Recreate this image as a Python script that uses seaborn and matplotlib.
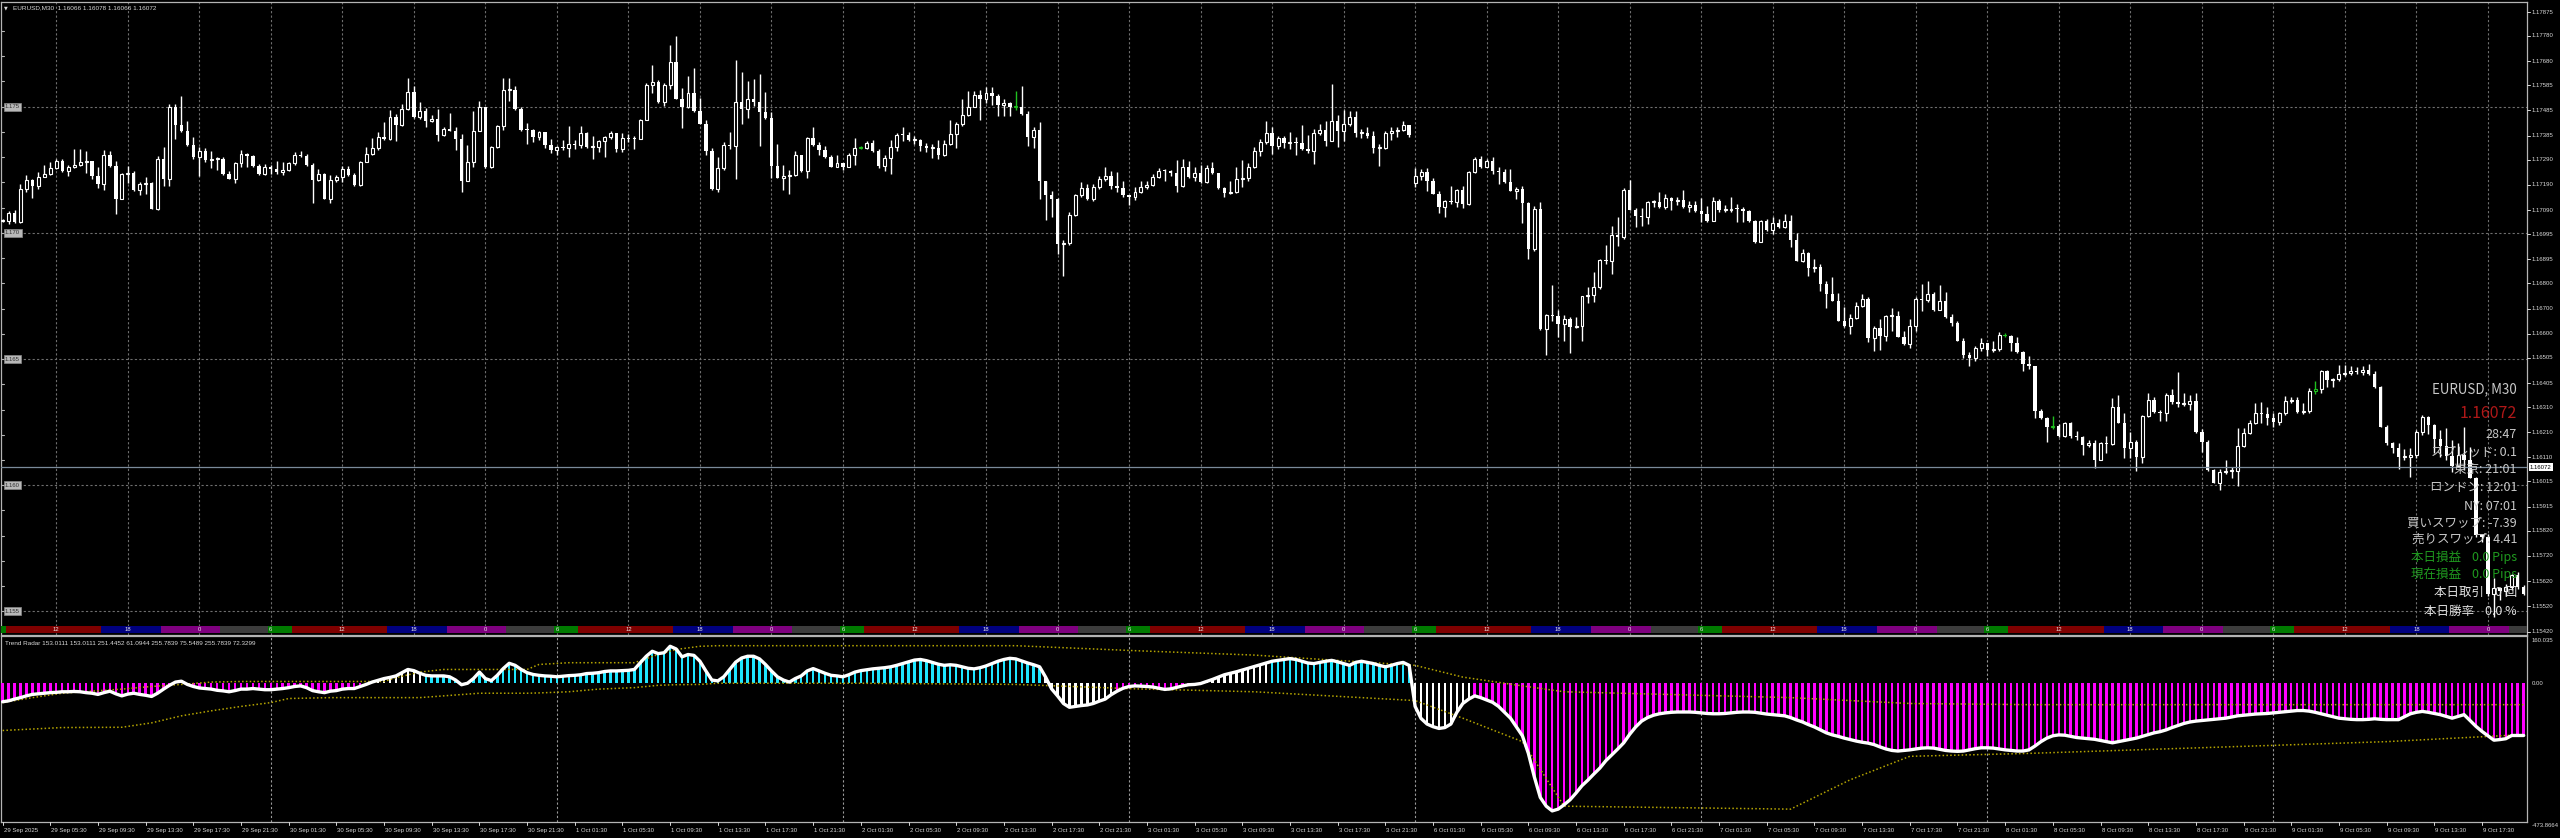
import numpy as np
import matplotlib
matplotlib.use("Agg")
import matplotlib.pyplot as plt
import seaborn as sns
from datetime import datetime, timedelta

W, H = 2560, 838

# ---------------- data: EURUSD M30 candles ----------------
first_open = 1.17048
closes = [
    1.17048, 1.17077, 1.17044, 1.17173, 1.17209, 1.17186, 1.17222, 1.17233, 1.17257, 1.17286,
    1.17247, 1.17262, 1.17268, 1.17280, 1.17283, 1.17225, 1.17193, 1.17310, 1.17266, 1.17136,
    1.17235, 1.17239, 1.17171, 1.17193, 1.17196, 1.17094, 1.17291, 1.17213, 1.17497, 1.17429,
    1.17402, 1.17349, 1.17299, 1.17325, 1.17288, 1.17292, 1.17294, 1.17233, 1.17213, 1.17275,
    1.17312, 1.17306, 1.17266, 1.17233, 1.17259, 1.17251, 1.17243, 1.17250, 1.17275, 1.17307,
    1.17304, 1.17268, 1.17209, 1.17235, 1.17136, 1.17209, 1.17220, 1.17253, 1.17230, 1.17189,
    1.17282, 1.17312, 1.17336, 1.17381, 1.17370, 1.17458, 1.17429, 1.17491, 1.17557, 1.17458,
    1.17481, 1.17444, 1.17452, 1.17389, 1.17411, 1.17405, 1.17372, 1.17206, 1.17279, 1.17405,
    1.17497, 1.17259, 1.17341, 1.17423, 1.17564, 1.17564, 1.17491, 1.17409, 1.17407, 1.17379,
    1.17398, 1.17349, 1.17330, 1.17339, 1.17338, 1.17353, 1.17349, 1.17396, 1.17339, 1.17342,
    1.17362, 1.17380, 1.17396, 1.17333, 1.17376, 1.17373, 1.17372, 1.17448, 1.17587, 1.17599,
    1.17518, 1.17585, 1.17675, 1.17531, 1.17500, 1.17555, 1.17483, 1.17431, 1.17323, 1.17172,
    1.17255, 1.17349, 1.17346, 1.17518, 1.17492, 1.17531, 1.17518, 1.17477, 1.17457, 1.17265,
    1.17218, 1.17225, 1.17231, 1.17307, 1.17244, 1.17375, 1.17349, 1.17330, 1.17300, 1.17261,
    1.17278, 1.17261, 1.17309, 1.17336, 1.17338, 1.17356, 1.17326, 1.17265, 1.17296, 1.17339,
    1.17388, 1.17386, 1.17369, 1.17369, 1.17346, 1.17336, 1.17338, 1.17307, 1.17353, 1.17392,
    1.17431, 1.17466, 1.17500, 1.17548, 1.17531, 1.17555, 1.17544, 1.17505, 1.17516, 1.17500,
    1.17500, 1.17470, 1.17379, 1.17408, 1.17207, 1.17148, 1.17134, 1.16956, 1.16961, 1.17072,
    1.17148, 1.17178, 1.17134, 1.17183, 1.17214, 1.17227, 1.17187, 1.17178, 1.17148, 1.17141,
    1.17161, 1.17183, 1.17191, 1.17220, 1.17247, 1.17244, 1.17236, 1.17187, 1.17262, 1.17223,
    1.17236, 1.17200, 1.17257, 1.17237, 1.17178, 1.17157, 1.17161, 1.17214, 1.17218, 1.17260,
    1.17326, 1.17359, 1.17394, 1.17346, 1.17376, 1.17355, 1.17361, 1.17355, 1.17332, 1.17326,
    1.17394, 1.17408, 1.17365, 1.17445, 1.17405, 1.17431, 1.17460, 1.17394, 1.17396, 1.17385,
    1.17336, 1.17338, 1.17394, 1.17405, 1.17408, 1.17427, 1.17389, 1.17227, 1.17240, 1.17204,
    1.17154, 1.17101, 1.17125, 1.17122, 1.17170, 1.17115, 1.17240, 1.17293, 1.17262, 1.17284,
    1.17244, 1.17241, 1.17200, 1.17167, 1.17173, 1.17117, 1.16937, 1.17095, 1.16619, 1.16675,
    1.16671, 1.16639, 1.16659, 1.16626, 1.16632, 1.16749, 1.16753, 1.16787, 1.16893, 1.16888,
    1.16993, 1.16985, 1.17168, 1.17091, 1.17065, 1.17062, 1.17122, 1.17122, 1.17102, 1.17139,
    1.17126, 1.17131, 1.17102, 1.17112, 1.17086, 1.17075, 1.17046, 1.17128, 1.17089, 1.17091,
    1.17094, 1.17093, 1.17086, 1.17046, 1.16963, 1.17046, 1.17012, 1.17038, 1.17025, 1.17046,
    1.16972, 1.16890, 1.16919, 1.16861, 1.16864, 1.16798, 1.16758, 1.16731, 1.16652, 1.16632,
    1.16663, 1.16712, 1.16738, 1.16583, 1.16622, 1.16593, 1.16669, 1.16671, 1.16589, 1.16559,
    1.16632, 1.16738, 1.16735, 1.16758, 1.16694, 1.16731, 1.16668, 1.16641, 1.16573, 1.16517,
    1.16504, 1.16544, 1.16562, 1.16537, 1.16538, 1.16596, 1.16593, 1.16562, 1.16526, 1.16480,
    1.16473, 1.16295, 1.16265, 1.16232, 1.16235, 1.16195, 1.16245, 1.16195, 1.16192, 1.16159,
    1.16168, 1.16102, 1.16168, 1.16162, 1.16309, 1.16248, 1.16146, 1.16172, 1.16113, 1.16274,
    1.16338, 1.16292, 1.16288, 1.16358, 1.16328, 1.16321, 1.16322, 1.16335, 1.16212, 1.16172,
    1.16060, 1.16009, 1.16053, 1.16057, 1.16057, 1.16155, 1.16208, 1.16248, 1.16285, 1.16281,
    1.16265, 1.16251, 1.16285, 1.16335, 1.16338, 1.16292, 1.16294, 1.16375, 1.16381, 1.16451,
    1.16418, 1.16420, 1.16442, 1.16444, 1.16451, 1.16450, 1.16455, 1.16442, 1.16389, 1.16232,
    1.16166, 1.16146, 1.16110, 1.16113, 1.16118, 1.16212, 1.16272, 1.16239, 1.16182, 1.16155,
    1.16115, 1.16076, 1.16119, 1.16099, 1.16030, 1.15801, 1.15794, 1.15569, 1.15592, 1.15580,
    1.15595, 1.15644, 1.15598, 1.15571,
]
highs = [
    1.17053, 1.17087, 1.17090, 1.17193, 1.17230, 1.17214, 1.17243, 1.17270, 1.17279, 1.17291,
    1.17291, 1.17270, 1.17332, 1.17331, 1.17325, 1.17286, 1.17259, 1.17328, 1.17325, 1.17286,
    1.17239, 1.17263, 1.17246, 1.17200, 1.17220, 1.17200, 1.17306, 1.17339, 1.17511, 1.17511,
    1.17544, 1.17444, 1.17378, 1.17339, 1.17336, 1.17323, 1.17299, 1.17302, 1.17246, 1.17279,
    1.17328, 1.17315, 1.17307, 1.17272, 1.17272, 1.17270, 1.17286, 1.17279, 1.17279, 1.17319,
    1.17325, 1.17312, 1.17275, 1.17254, 1.17239, 1.17230, 1.17229, 1.17266, 1.17263, 1.17239,
    1.17286, 1.17339, 1.17376, 1.17398, 1.17438, 1.17487, 1.17471, 1.17511, 1.17614, 1.17583,
    1.17517, 1.17495, 1.17467, 1.17491, 1.17421, 1.17474, 1.17418, 1.17392, 1.17349, 1.17484,
    1.17524, 1.17500, 1.17345, 1.17429, 1.17614, 1.17614, 1.17583, 1.17500, 1.17435, 1.17411,
    1.17405, 1.17401, 1.17372, 1.17346, 1.17366, 1.17424, 1.17366, 1.17424, 1.17398, 1.17383,
    1.17369, 1.17385, 1.17405, 1.17396, 1.17396, 1.17392, 1.17383, 1.17450, 1.17594, 1.17666,
    1.17607, 1.17594, 1.17744, 1.17779, 1.17574, 1.17623, 1.17653, 1.17535, 1.17448, 1.17336,
    1.17300, 1.17359, 1.17398, 1.17683, 1.17636, 1.17601, 1.17610, 1.17631, 1.17557, 1.17477,
    1.17353, 1.17268, 1.17248, 1.17326, 1.17309, 1.17379, 1.17418, 1.17359, 1.17346, 1.17309,
    1.17309, 1.17278, 1.17317, 1.17375, 1.17346, 1.17362, 1.17369, 1.17333, 1.17307, 1.17366,
    1.17396, 1.17418, 1.17398, 1.17385, 1.17372, 1.17356, 1.17353, 1.17369, 1.17369, 1.17448,
    1.17440, 1.17531, 1.17561, 1.17561, 1.17565, 1.17578, 1.17578, 1.17552, 1.17531, 1.17518,
    1.17561, 1.17581, 1.17483, 1.17418, 1.17438, 1.17207, 1.17165, 1.17138, 1.16972, 1.17082,
    1.17154, 1.17200, 1.17194, 1.17194, 1.17227, 1.17262, 1.17247, 1.17240, 1.17207, 1.17148,
    1.17181, 1.17207, 1.17204, 1.17233, 1.17257, 1.17253, 1.17249, 1.17289, 1.17293, 1.17286,
    1.17260, 1.17270, 1.17270, 1.17280, 1.17236, 1.17181, 1.17207, 1.17262, 1.17289, 1.17276,
    1.17342, 1.17372, 1.17445, 1.17418, 1.17385, 1.17385, 1.17398, 1.17379, 1.17429, 1.17389,
    1.17412, 1.17431, 1.17445, 1.17590, 1.17468, 1.17487, 1.17484, 1.17484, 1.17412, 1.17418,
    1.17405, 1.17352, 1.17402, 1.17421, 1.17418, 1.17442, 1.17429, 1.17257, 1.17253, 1.17257,
    1.17218, 1.17167, 1.17130, 1.17187, 1.17174, 1.17187, 1.17244, 1.17299, 1.17306, 1.17293,
    1.17299, 1.17262, 1.17253, 1.17253, 1.17181, 1.17187, 1.17122, 1.17108, 1.17122, 1.16679,
    1.16795, 1.16694, 1.16676, 1.16668, 1.16665, 1.16751, 1.16787, 1.16844, 1.16897, 1.16952,
    1.17029, 1.17062, 1.17179, 1.17210, 1.17099, 1.17099, 1.17126, 1.17131, 1.17161, 1.17155,
    1.17144, 1.17142, 1.17168, 1.17128, 1.17126, 1.17139, 1.17108, 1.17142, 1.17135, 1.17112,
    1.17142, 1.17115, 1.17102, 1.17089, 1.17052, 1.17049, 1.17056, 1.17062, 1.17056, 1.17073,
    1.17069, 1.16999, 1.16936, 1.16923, 1.16897, 1.16877, 1.16811, 1.16824, 1.16761, 1.16708,
    1.16679, 1.16725, 1.16758, 1.16745, 1.16632, 1.16659, 1.16676, 1.16702, 1.16692, 1.16612,
    1.16659, 1.16747, 1.16798, 1.16811, 1.16765, 1.16795, 1.16765, 1.16679, 1.16649, 1.16583,
    1.16526, 1.16553, 1.16583, 1.16562, 1.16570, 1.16606, 1.16602, 1.16596, 1.16586, 1.16533,
    1.16513, 1.16473, 1.16301, 1.16272, 1.16274, 1.16243, 1.16252, 1.16252, 1.16216, 1.16195,
    1.16179, 1.16179, 1.16172, 1.16195, 1.16345, 1.16358, 1.16285, 1.16212, 1.16179, 1.16278,
    1.16367, 1.16349, 1.16298, 1.16365, 1.16381, 1.16447, 1.16365, 1.16358, 1.16365, 1.16221,
    1.16179, 1.16066, 1.16066, 1.16099, 1.16073, 1.16225, 1.16225, 1.16259, 1.16325, 1.16328,
    1.16312, 1.16288, 1.16292, 1.16354, 1.16349, 1.16351, 1.16325, 1.16385, 1.16415, 1.16457,
    1.16457, 1.16424, 1.16477, 1.16477, 1.16471, 1.16468, 1.16473, 1.16481, 1.16451, 1.16394,
    1.16239, 1.16172, 1.16168, 1.16142, 1.16146, 1.16219, 1.16278, 1.16274, 1.16243, 1.16219,
    1.16225, 1.16179, 1.16166, 1.16232, 1.16150, 1.16033, 1.15808, 1.15808, 1.15632, 1.15598,
    1.15610, 1.15650, 1.15655, 1.15605,
]
lows = [
    1.17042, 1.17037, 1.17040, 1.17038, 1.17160, 1.17140, 1.17173, 1.17220, 1.17230, 1.17254,
    1.17243, 1.17226, 1.17255, 1.17265, 1.17239, 1.17213, 1.17176, 1.17171, 1.17259, 1.17074,
    1.17134, 1.17196, 1.17167, 1.17151, 1.17153, 1.17093, 1.17091, 1.17186, 1.17184, 1.17372,
    1.17398, 1.17345, 1.17292, 1.17226, 1.17279, 1.17257, 1.17249, 1.17230, 1.17212, 1.17197,
    1.17259, 1.17259, 1.17262, 1.17230, 1.17230, 1.17235, 1.17233, 1.17230, 1.17246, 1.17268,
    1.17299, 1.17266, 1.17120, 1.17206, 1.17134, 1.17120, 1.17202, 1.17200, 1.17226, 1.17186,
    1.17184, 1.17279, 1.17310, 1.17328, 1.17368, 1.17368, 1.17365, 1.17425, 1.17487, 1.17455,
    1.17451, 1.17421, 1.17438, 1.17365, 1.17382, 1.17402, 1.17328, 1.17160, 1.17206, 1.17259,
    1.17402, 1.17257, 1.17257, 1.17336, 1.17407, 1.17524, 1.17488, 1.17405, 1.17353, 1.17359,
    1.17366, 1.17336, 1.17317, 1.17307, 1.17330, 1.17300, 1.17333, 1.17336, 1.17336, 1.17294,
    1.17320, 1.17300, 1.17372, 1.17320, 1.17320, 1.17359, 1.17333, 1.17372, 1.17448, 1.17555,
    1.17516, 1.17503, 1.17570, 1.17529, 1.17414, 1.17496, 1.17479, 1.17430, 1.17307, 1.17170,
    1.17163, 1.17248, 1.17333, 1.17213, 1.17431, 1.17457, 1.17503, 1.17343, 1.17450, 1.17216,
    1.17216, 1.17170, 1.17153, 1.17226, 1.17242, 1.17216, 1.17346, 1.17309, 1.17296, 1.17259,
    1.17259, 1.17248, 1.17268, 1.17270, 1.17333, 1.17333, 1.17320, 1.17255, 1.17244, 1.17235,
    1.17326, 1.17362, 1.17362, 1.17353, 1.17323, 1.17320, 1.17296, 1.17294, 1.17304, 1.17349,
    1.17336, 1.17424, 1.17463, 1.17500, 1.17448, 1.17513, 1.17505, 1.17463, 1.17461, 1.17463,
    1.17487, 1.17466, 1.17346, 1.17336, 1.17134, 1.17051, 1.17062, 1.16917, 1.16831, 1.16950,
    1.17068, 1.17144, 1.17130, 1.17128, 1.17174, 1.17207, 1.17174, 1.17161, 1.17141, 1.17112,
    1.17130, 1.17157, 1.17174, 1.17187, 1.17218, 1.17207, 1.17227, 1.17161, 1.17183, 1.17218,
    1.17207, 1.17196, 1.17196, 1.17233, 1.17175, 1.17144, 1.17154, 1.17157, 1.17181, 1.17207,
    1.17257, 1.17306, 1.17352, 1.17313, 1.17332, 1.17336, 1.17332, 1.17310, 1.17328, 1.17315,
    1.17273, 1.17389, 1.17346, 1.17363, 1.17342, 1.17365, 1.17425, 1.17379, 1.17376, 1.17376,
    1.17315, 1.17266, 1.17332, 1.17368, 1.17381, 1.17405, 1.17379, 1.17183, 1.17210, 1.17165,
    1.17152, 1.17078, 1.17062, 1.17115, 1.17101, 1.17099, 1.17112, 1.17236, 1.17257, 1.17260,
    1.17233, 1.17194, 1.17196, 1.17165, 1.17134, 1.17038, 1.16897, 1.16930, 1.16616, 1.16517,
    1.16649, 1.16589, 1.16570, 1.16522, 1.16622, 1.16573, 1.16721, 1.16725, 1.16778, 1.16877,
    1.16835, 1.16946, 1.16976, 1.17089, 1.17025, 1.17029, 1.17036, 1.17102, 1.17099, 1.17095,
    1.17091, 1.17112, 1.17099, 1.17082, 1.17082, 1.17042, 1.17042, 1.17046, 1.17082, 1.17082,
    1.17082, 1.17042, 1.17042, 1.17042, 1.16959, 1.16963, 1.17009, 1.16996, 1.17020, 1.17020,
    1.16943, 1.16888, 1.16884, 1.16831, 1.16844, 1.16771, 1.16702, 1.16729, 1.16649, 1.16626,
    1.16599, 1.16659, 1.16708, 1.16566, 1.16533, 1.16536, 1.16570, 1.16612, 1.16586, 1.16557,
    1.16544, 1.16612, 1.16689, 1.16725, 1.16692, 1.16697, 1.16663, 1.16632, 1.16570, 1.16504,
    1.16473, 1.16491, 1.16533, 1.16513, 1.16526, 1.16530, 1.16586, 1.16533, 1.16524, 1.16454,
    1.16460, 1.16268, 1.16261, 1.16172, 1.16221, 1.16192, 1.16192, 1.16186, 1.16179, 1.16119,
    1.16150, 1.16070, 1.16099, 1.16126, 1.16159, 1.16245, 1.16106, 1.16106, 1.16057, 1.16089,
    1.16272, 1.16288, 1.16256, 1.16256, 1.16322, 1.16312, 1.16314, 1.16298, 1.16208, 1.16133,
    1.16057, 1.16007, 1.15983, 1.16046, 1.16030, 1.15996, 1.16150, 1.16203, 1.16243, 1.16245,
    1.16239, 1.16232, 1.16239, 1.16278, 1.16325, 1.16285, 1.16282, 1.16285, 1.16362, 1.16367,
    1.16391, 1.16391, 1.16415, 1.16434, 1.16438, 1.16442, 1.16438, 1.16438, 1.16385, 1.16229,
    1.16159, 1.16126, 1.16066, 1.16099, 1.16033, 1.16106, 1.16199, 1.16203, 1.16126, 1.16113,
    1.16099, 1.16053, 1.16073, 1.16060, 1.16027, 1.15794, 1.15775, 1.15562, 1.15478, 1.15545,
    1.15560, 1.15585, 1.15590, 1.15565,
]
open_gaps = {237: 1.17196}          # Monday open after the weekend gap
green_bars = [144, 170, 336, 344, 388]
start_time = datetime(2025, 9, 29, 1, 30)
weekend_bar = 237

price_ticks = [1.17875, 1.17780, 1.17680, 1.17585, 1.17485, 1.17385, 1.17290, 1.17190, 1.17090,
               1.16995, 1.16895, 1.16800, 1.16700, 1.16600, 1.16505, 1.16405, 1.16310, 1.16210,
               1.16110, 1.16015, 1.15915, 1.15820, 1.15720, 1.15620, 1.15520, 1.15420]
round_levels = [1.175, 1.170, 1.165, 1.160, 1.155]
last_price = 1.16072

# session bar (server hours) -> colours
session_edges = [0, 2, 10, 15, 20]
session_colors = ["#007a00", "#7f0000", "#00007f", "#7f007f", "#3c3c3c"]

# ---------------- data: Trend Radar sub-window ----------------
radar = [
    -64, -61, -55, -50, -44, -39, -37, -35, -33, -32, -30, -30, -29, -30, -33, -35, -39, -33, -28, -37,
    -44, -38, -35, -39, -42, -46, -35, -21, -8, 3, 6, -5, -12, -17, -19, -21, -25, -27, -30, -26,
    -21, -21, -19, -21, -23, -23, -21, -19, -16, -12, -10, -16, -26, -30, -33, -28, -26, -21, -19, -19,
    -12, -5, 3, 9, 15, 19, 24, 35, 46, 42, 33, 26, 24, 24, 24, 21, 10, -6, -1, 15,
    37, 15, 8, 26, 49, 67, 60, 46, 35, 29, 26, 24, 23, 21, 23, 25, 26, 28, 32, 33,
    35, 39, 41, 41, 42, 43, 46, 69, 91, 108, 100, 103, 125, 116, 89, 97, 94, 74, 41, 10,
    7, 21, 46, 71, 85, 91, 91, 82, 63, 41, 21, 10, 3, 15, 24, 41, 49, 41, 33, 26,
    24, 21, 28, 37, 42, 45, 48, 50, 52, 55, 60, 66, 72, 78, 80, 76, 70, 64, 60, 62,
    60, 55, 50, 48, 52, 58, 66, 74, 80, 84, 82, 75, 68, 62, 55, 20, -20, -44, -70, -83,
    -80, -77, -75, -70, -62, -55, -40, -28, -18, -12, -10, -11, -12, -14, -18, -22, -20, -15, -10, -6,
    -5, -2, 5, 12, 20, 28, 33, 38, 44, 50, 56, 62, 68, 74, 77, 80, 83, 80, 74, 68,
    66, 70, 74, 77, 72, 66, 60, 70, 74, 70, 66, 60, 55, 60, 66, 70, 60, -80, -121, -140,
    -149, -155, -152, -140, -100, -70, -55, -44, -50, -58, -66, -80, -100, -120, -150, -180, -240, -320, -390, -420,
    -436, -430, -415, -398, -375, -350, -331, -310, -290, -265, -245, -225, -204, -175, -150, -130, -118, -110, -105, -102,
    -100, -99, -99, -99, -100, -102, -104, -105, -105, -104, -102, -100, -99, -99, -100, -103, -106, -108, -110, -112,
    -118, -126, -133, -142, -150, -160, -170, -177, -182, -188, -193, -198, -202, -205, -210, -218, -225, -230, -232, -230,
    -228, -225, -222, -221, -222, -226, -230, -232, -233, -232, -228, -224, -221, -221, -222, -225, -228, -230, -232, -232,
    -228, -215, -200, -188, -180, -177, -178, -182, -186, -188, -190, -192, -196, -200, -204, -200, -196, -192, -188, -182,
    -176, -170, -166, -160, -152, -145, -138, -133, -130, -128, -126, -124, -122, -120, -116, -112, -110, -108, -106, -105,
    -104, -102, -100, -98, -96, -94, -94, -96, -100, -105, -110, -115, -120, -122, -124, -125, -125, -124, -122, -124,
    -125, -125, -125, -115, -105, -100, -97, -100, -104, -108, -114, -120, -114, -108, -128, -148, -165, -180, -195, -193,
    -190, -179, -179, -179,
]
# histogram state per run of bars: (first bar, state) ; 1 = up, 0 = neutral, -1 = down
radar_state_runs = [(0, -1), (63, 0), (71, 1), (175, 0), (187, -1), (201, 0), (213, 1),
                    (237, 0), (247, -1)]
band_bar = [0, 5, 10, 20, 25, 30, 35, 40, 45, 48, 55, 64, 66, 70, 74, 80, 88, 90, 95, 100,
            106, 110, 113, 117, 120, 144, 170, 190, 210, 237, 245, 255, 262, 300, 310, 320,
            340, 400, 423]
band_upper = [-67, -50, -35, -21, -12, -5, 3, 5, 5, 5, 5, 5, 18, 37, 46, 46, 46, 63, 69, 69,
              69, 97, 114, 125, 127, 127, 127, 110, 95, 60, 20, -10, -30, -50, -60, -70,
              -74, -74, -74]
band_lower = [-162, -157, -152, -151, -136, -112, -95, -80, -67, -53, -50, -50, -50, -50, -44,
              -35, -35, -34, -30, -21, -16, -8, -6, -5, -1, -1, -5, -20, -30, -60, -120, -200,
              -420, -430, -330, -250, -240, -200, -176]
ind_top, ind_bottom = 160.035, -473.8664
ind_title = "Trend Radar 153.0111 153.0111 251.4452 61.0944 255.7839 75.5489 255.7839 72.3299"
state_colors = {1: "#1ee6ff", 0: "#ffffff", -1: "#ff00ff"}

info_lines = [
    ("EURUSD, M30", "#c8c8c8", 9.6, 389),
    ("1.16072", "#b01818", 11.5, 414),
    ("28:47", "#c8c8c8", 9.0, 434),
    ("スプレッド: 0.1", "#c8c8c8", 9.0, 452),
    ("東京: 21:01", "#c8c8c8", 9.0, 469),
    ("ロンドン: 12:01", "#c8c8c8", 9.0, 487),
    ("NY: 07:01", "#c8c8c8", 9.0, 506),
    ("買いスワップ: -7.39", "#c8c8c8", 9.0, 523),
    ("売りスワップ: 4.41", "#c8c8c8", 9.0, 539),
    ("本日損益    0.0 Pips", "#1f9a1f", 9.0, 557),
    ("現在損益    0.0 Pips", "#1f9a1f", 9.0, 574),
    ("本日取引    0 回", "#e0e0e0", 9.0, 592),
    ("本日勝率    0.0 %", "#e0e0e0", 9.0, 611),
]

# ---------------- layout (pixels of the 2560x838 canvas) ----------------
X0, BAR_PX = 2.6, 5.96
LEFT_PX, RIGHT_PX = 1, 2527
MAIN_TOP, MAIN_BOT = 2, 635
IND_TOP, IND_BOT = 636, 822
Y_REF, P_REF, PX_PER_PRICE = 12, 1.17875, 25240


def price_at(py):
    return P_REF - (py - Y_REF) / PX_PER_PRICE


def y_of(p):
    return Y_REF + (P_REF - p) * PX_PER_PRICE


def fx(px):
    return px / W


def fy(py):
    return 1 - py / H


def bar_time(i):
    t = start_time + timedelta(minutes=30 * int(i))
    if i >= weekend_bar:
        t += timedelta(days=2)
    return t


sns.set_theme(style="dark", rc={"axes.facecolor": "black", "figure.facecolor": "black"})
plt.rcParams["font.family"] = ["Liberation Sans", "DejaVu Sans"]
plt.rcParams["axes.grid"] = False

fig = plt.figure(figsize=(W / 100, H / 100), dpi=100, facecolor="black")
xlim = ((LEFT_PX - X0) / BAR_PX, (RIGHT_PX - X0) / BAR_PX)

ax = fig.add_axes([fx(LEFT_PX), fy(MAIN_BOT), fx(RIGHT_PX - LEFT_PX), (MAIN_BOT - MAIN_TOP) / H])
axi = fig.add_axes([fx(LEFT_PX), fy(IND_BOT), fx(RIGHT_PX - LEFT_PX), (IND_BOT - IND_TOP) / H])
for a in (ax, axi):
    a.set_facecolor("black")
    for s in a.spines.values():
        s.set_color("#b4b4b4")
        s.set_linewidth(0.9)

n = len(closes)
idx = np.arange(n)
times = [bar_time(i) for i in idx]
hours = np.array([t.hour + t.minute / 60 for t in times])

# ---------------- grid & separators ----------------
grid_bars = [i for i, t in enumerate(times) if t.minute == 0 and t.hour % 6 == 0]
day_bars = [i for i, t in enumerate(times) if t.minute == 0 and t.hour == 0]
for i in grid_bars:
    ax.axvline(i, color="#6e6e6e", lw=0.8, ls=(0, (2, 2)), zorder=1)
for i in day_bars:
    axi.axvline(i, color="#9a9a9a", lw=0.8, ls=(0, (2, 2)), zorder=1)
for lv in round_levels:
    ax.axhline(lv, color="#6e6e6e", lw=0.8, ls=(0, (2, 2)), zorder=1)
for k in range(1155, 1179):
    ax.plot([xlim[0], xlim[0] + 0.5], [k / 1000, k / 1000], color="#b4b4b4", lw=0.8, zorder=2)

# ---------------- info panel (behind candles) ----------------
for txt, col, size, py in info_lines:
    fig.text(fx(2517), fy(py), txt, color=col, fontsize=size, ha="right", va="center",
             family=["Noto Sans CJK JP", "DejaVu Sans"], zorder=0)

# ---------------- candles ----------------
c = np.array(closes)
o = np.r_[first_open, c[:-1]]
for k, v in open_gaps.items():
    o[k] = v
h = np.maximum(np.array(highs), np.maximum(o, c))
l = np.minimum(np.array(lows), np.minimum(o, c))
up = c >= o
body_lo = np.minimum(o, c)
body_h = np.maximum(np.abs(c - o), 0.00004)
edge = np.where(np.isin(idx, green_bars), "#1fc01f", "white")

ax.vlines(idx, l, h, colors=edge, lw=1.0, zorder=4)
ax.bar(idx[~up], body_h[~up], bottom=body_lo[~up], width=0.56, color=edge[~up], lw=0, zorder=5)
ax.bar(idx[up], body_h[up], bottom=body_lo[up], width=0.5, facecolor="black",
       edgecolor=edge[up], lw=0.8, zorder=5)

ax.axhline(last_price, color="#7a8a9a", lw=0.9, zorder=6)

# ---------------- session bar ----------------
seg = np.searchsorted(session_edges, hours, side="right") - 1
sb_lo, sb_hi = price_at(633), price_at(626)
ax.bar(idx, sb_hi - sb_lo, bottom=sb_lo, width=1.0, color=[session_colors[s] for s in seg],
       lw=0, zorder=7)
for i in grid_bars:
    lbl = str((times[i].hour + 6) % 24)
    ax.text(i, (sb_lo + sb_hi) / 2, lbl, color="#e8e8e8", fontsize=4.2, ha="center",
            va="center", zorder=8)

# ---------------- indicator ----------------
states = np.zeros(n, dtype=int)
for first, st in radar_state_runs:
    states[first:] = st
radar_v = np.array(radar, dtype=float)
axi.bar(idx, radar_v, width=0.42, color=[state_colors[s] for s in states], lw=0, zorder=3)
sns.lineplot(x=band_bar, y=band_upper, ax=axi, color="#b4a400", lw=1.1, ls=(0, (1, 1.5)), zorder=4)
sns.lineplot(x=band_bar, y=band_lower, ax=axi, color="#b4a400", lw=1.1, ls=(0, (1, 1.5)), zorder=4)
sns.lineplot(x=idx, y=radar_v, ax=axi, color="white", lw=2.4, zorder=5)

for a in (ax, axi):
    a.set_xlim(*xlim)
    a.set_xticks([])
    a.set_yticks([])
    a.set_xlabel("")
    a.set_ylabel("")
ax.set_ylim(price_at(MAIN_BOT), price_at(MAIN_TOP))
axi.set_ylim(ind_bottom, ind_top)

# ---------------- texts ----------------
tc = "#d8d8d8"
fig.text(fx(4), fy(8), "\u25bc", color=tc, fontsize=3.5, va="center", family="DejaVu Sans")
fig.text(fx(13), fy(8), "EURUSD,M30  1.16066 1.16078 1.16066 1.16072", color=tc,
         fontsize=4.6, va="center")
fig.text(fx(5), fy(643), ind_title, color=tc, fontsize=4.6, va="center")

for p in price_ticks:
    py = y_of(p)
    fig.lines.append(plt.Line2D([fx(RIGHT_PX), fx(RIGHT_PX + 3)], [fy(py), fy(py)],
                                color=tc, lw=0.7, transform=fig.transFigure))
    fig.text(fx(RIGHT_PX + 5), fy(py), f"{p:.5f}", color=tc, fontsize=4.3, va="center")

fig.text(fx(RIGHT_PX + 3), fy(y_of(last_price)), f"{last_price:.5f}", color="black",
         fontsize=4.3, va="center",
         bbox=dict(boxstyle="square,pad=0.25", fc="white", ec="white", lw=0))

for lv in round_levels:
    fig.text(fx(5), fy(y_of(lv)), f"{lv:.3f}", color="#303030", fontsize=4.3, va="center",
             bbox=dict(boxstyle="square,pad=0.25", fc="#b8b8b8", ec="#888888", lw=0.5))

fig.text(fx(RIGHT_PX + 5), fy(641), f"{ind_top:.3f}", color=tc, fontsize=4.3, va="center")
fig.text(fx(RIGHT_PX + 5), fy(683), "0.00", color=tc, fontsize=4.3, va="center")
fig.text(fx(RIGHT_PX + 5), fy(825), f"{ind_bottom:.4f}", color=tc, fontsize=4.3, va="center")

for i in range(0, n, 8):
    t = times[i]
    px = X0 + BAR_PX * i
    lbl = f"{t.day} {t:%b} {t:%Y}" if i == 0 else f"{t.day} {t:%b} {t:%H:%M}"
    fig.lines.append(plt.Line2D([fx(px), fx(px)], [fy(IND_BOT), fy(IND_BOT + 3)],
                                color=tc, lw=0.7, transform=fig.transFigure))
    fig.text(fx(px + 1), fy(830), lbl, color=tc, fontsize=4.3, va="center")

fig.savefig("out.png", dpi=100, facecolor="black")
